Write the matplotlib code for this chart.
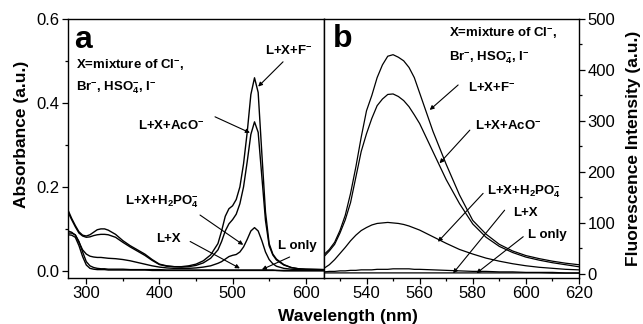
import numpy as np
import matplotlib
matplotlib.use("Agg")
import matplotlib.pyplot as plt
from matplotlib.ticker import MultipleLocator

plt.rcParams['font.family'] = ['Liberation Sans', 'DejaVu Sans']
plt.rcParams['mathtext.default'] = 'regular'

# ---- panel a : absorption ----
wl_a = [275, 280, 285, 290, 295, 300, 305, 310, 315, 320, 325, 330, 340, 350, 360, 370,
        380, 390, 400, 410, 420, 430, 440, 450, 460, 470, 480, 485, 490, 495, 500, 505,
        510, 515, 520, 525, 530, 535, 540, 545, 550, 555, 560, 570, 580, 590, 600, 625]
abs_F = [0.145, 0.125, 0.108, 0.093, 0.085, 0.083, 0.086, 0.092, 0.098, 0.100, 0.100, 0.097,
         0.087, 0.072, 0.060, 0.050, 0.040, 0.027, 0.016, 0.012, 0.010, 0.010, 0.012, 0.016,
         0.024, 0.038, 0.065, 0.095, 0.130, 0.148, 0.155, 0.170, 0.200, 0.255, 0.330, 0.420,
         0.460, 0.425, 0.280, 0.140, 0.065, 0.040, 0.028, 0.015, 0.008, 0.005, 0.004, 0.003]
abs_AcO = [0.140, 0.122, 0.105, 0.090, 0.083, 0.080, 0.081, 0.084, 0.086, 0.087, 0.087, 0.086,
           0.080, 0.068, 0.057, 0.047, 0.037, 0.025, 0.015, 0.011, 0.010, 0.009, 0.010, 0.013,
           0.019, 0.030, 0.050, 0.070, 0.095, 0.112, 0.122, 0.135, 0.160, 0.200, 0.260, 0.325,
           0.355, 0.330, 0.225, 0.120, 0.060, 0.038, 0.026, 0.014, 0.008, 0.005, 0.004, 0.003]
abs_H2PO4 = [0.095, 0.092, 0.085, 0.068, 0.050, 0.040, 0.035, 0.033, 0.032, 0.032, 0.031, 0.030,
             0.029, 0.027, 0.024, 0.020, 0.016, 0.012, 0.009, 0.007, 0.006, 0.006, 0.006, 0.007,
             0.009, 0.012, 0.018, 0.022, 0.028, 0.034, 0.037, 0.039, 0.045, 0.057, 0.075, 0.095,
             0.103, 0.095, 0.072, 0.045, 0.027, 0.017, 0.011, 0.006, 0.004, 0.003, 0.002, 0.002]
abs_LX = [0.090, 0.090, 0.086, 0.070, 0.045, 0.022, 0.012, 0.008, 0.006, 0.005, 0.005, 0.004,
          0.004, 0.004, 0.003, 0.003, 0.003, 0.003, 0.003, 0.002, 0.002, 0.002, 0.002, 0.002,
          0.002, 0.002, 0.002, 0.002, 0.002, 0.002, 0.002, 0.002, 0.002, 0.002, 0.002, 0.002,
          0.002, 0.002, 0.002, 0.002, 0.002, 0.002, 0.001, 0.001, 0.001, 0.001, 0.001, 0.001]
abs_L = [0.086, 0.085, 0.080, 0.060, 0.034, 0.014, 0.006, 0.004, 0.003, 0.003, 0.003, 0.002,
         0.002, 0.002, 0.002, 0.002, 0.002, 0.001, 0.001, 0.001, 0.001, 0.001, 0.001, 0.001,
         0.001, 0.001, 0.001, 0.001, 0.001, 0.001, 0.001, 0.001, 0.001, 0.001, 0.001, 0.001,
         0.001, 0.001, 0.001, 0.001, 0.001, 0.001, 0.001, 0.000, 0.000, 0.000, 0.000, 0.000]

# ---- panel b : fluorescence ----
wl_b = [524, 526, 528, 530, 532, 534, 536, 538, 540, 542, 544, 546, 548, 550, 552, 554, 556,
        558, 560, 565, 570, 575, 580, 585, 590, 595, 600, 605, 610, 615, 620]
fl_F = [38, 48, 62, 85, 115, 158, 210, 268, 320, 350, 385, 410, 427, 430, 425, 418, 405,
        385, 355, 280, 215, 155, 105, 78, 58, 45, 36, 30, 25, 21, 18]
fl_AcO = [34, 45, 58, 80, 106, 140, 190, 240, 275, 305, 330, 343, 352, 353, 348, 340, 328,
          312, 295, 240, 185, 138, 98, 72, 54, 42, 33, 27, 22, 18, 14]
fl_H2PO4 = [11, 18, 28, 40, 52, 65, 76, 85, 91, 96, 99, 100, 101, 100, 99, 97, 94,
            90, 86, 73, 60, 48, 39, 31, 25, 20, 16, 13, 11, 9, 8]
fl_LX = [4, 5, 5, 6, 6, 7, 7, 8, 8, 8, 9, 9, 9, 10, 10, 10, 10,
         9, 9, 8, 7, 6, 5, 5, 4, 4, 3, 3, 3, 2, 2]
fl_L = [2, 2, 2, 2, 2, 2, 2, 2, 2, 2, 2, 2, 2, 2, 2, 2, 2,
        2, 2, 2, 2, 2, 2, 2, 2, 2, 2, 2, 1.5, 1.5, 1.5]

lbl_F = r'L+X+F$^{-}$'
lbl_AcO = r'L+X+AcO$^{-}$'
lbl_H2PO4 = r'L+X+H$_2$PO$_4^{-}$'
lbl_LX = 'L+X'
lbl_L = 'L only'
x_line1 = r'X=mixture of Cl$^{-}$,'
x_line2 = r'Br$^{-}$, HSO$_4^{-}$, I$^{-}$'

fig = plt.figure(figsize=(6.43, 3.24), dpi=100)
W, H = 643, 324
axa = fig.add_axes([68 / W, 1 - 278 / H, 256 / W, 259 / H])
axb = fig.add_axes([324 / W, 1 - 278 / H, 255 / W, 259 / H])

for s in (abs_F, abs_AcO, abs_H2PO4, abs_LX, abs_L):
    axa.plot(wl_a, s, color='black', lw=1.0)
for s in (fl_F, fl_AcO, fl_H2PO4, fl_LX, fl_L):
    axb.plot(wl_b, s, color='black', lw=0.9)

axa.set_xlim(275, 625)
axa.set_ylim(-0.017, 0.6)
axa.xaxis.set_major_locator(MultipleLocator(100))
axa.xaxis.set_minor_locator(MultipleLocator(50))
axa.yaxis.set_major_locator(MultipleLocator(0.2))
axa.yaxis.set_minor_locator(MultipleLocator(0.1))
axa.set_yticks([0.0, 0.2, 0.4, 0.6])
axa.set_yticklabels(['0.0', '0.2', '0.4', '0.6'])

axb.set_xlim(524, 620)
axb.set_ylim(-8, 500)
axb.xaxis.set_major_locator(MultipleLocator(20))
axb.xaxis.set_minor_locator(MultipleLocator(10))
axb.yaxis.set_major_locator(MultipleLocator(100))
axb.yaxis.set_minor_locator(MultipleLocator(50))
axb.yaxis.tick_right()
axb.yaxis.set_label_position('right')
axb.set_xticks([540, 560, 580, 600, 620])

for ax in (axa, axb):
    for sp in ax.spines.values():
        sp.set_linewidth(1.0)
    ax.tick_params(which='major', direction='out', length=4, width=0.9, labelsize=12, pad=2)
    ax.tick_params(which='minor', direction='out', length=2.5, width=0.9)
axa.tick_params(which='both', right=False, top=False)
axb.tick_params(which='both', left=False, top=False, right=True)

fig.text(22 / W, 0.5 * (1 - 50 / H) + 0.5 * (1 - 218 / H), 'Absorbance (a.u.)', rotation=90,
         fontsize=12.5, fontweight='bold', ha='center', va='center')
axb.set_ylabel('Fluorescence Intensity (a.u.)', fontsize=12.5, fontweight='bold', labelpad=8)
fig.text(348 / W, 1 - 316 / H, 'Wavelength (nm)', fontsize=12.5, fontweight='bold',
         ha='center', va='center')

axa.text(0.023, 0.887, 'a', transform=axa.transAxes, fontsize=23, fontweight='bold')
axb.text(0.035, 0.893, 'b', transform=axb.transAxes, fontsize=23, fontweight='bold')

tk = dict(fontsize=9.5, fontweight='bold', ha='left', va='center')
axa.text(286, 0.489, x_line1, **tk)
axa.text(286, 0.437, x_line2, **tk)
axb.text(571, 472, x_line1, **tk)
axb.text(571, 425, x_line2, **tk)

arr = dict(arrowstyle='-|>', color='black', lw=0.8, mutation_scale=6, shrinkA=0, shrinkB=0)

# panel a labels and arrows
axa.text(544, 0.522, lbl_F, **tk)
axa.annotate('', xy=(535, 0.439), xytext=(569, 0.498), arrowprops=arr)
axa.text(371, 0.343, lbl_AcO, **tk)
axa.annotate('', xy=(523.7, 0.329), xytext=(476, 0.367), arrowprops=arr)
axa.text(353, 0.165, lbl_H2PO4, **tk)
axa.annotate('', xy=(514.6, 0.062), xytext=(455.5, 0.133), arrowprops=arr)
axa.text(396, 0.076, lbl_LX, **tk)
axa.annotate('', xy=(510, 0.006), xytext=(442, 0.07), arrowprops=arr)
axa.text(562, 0.06, lbl_L, **tk)
axa.annotate('', xy=(540, 0.003), xytext=(578, 0.033), arrowprops=arr)

# panel b labels and arrows
axb.text(578.3, 364, lbl_F, **tk)
axb.annotate('', xy=(563.8, 321.6), xytext=(574.5, 370.6), arrowprops=arr)
axb.text(580.8, 289, lbl_AcO, **tk)
axb.annotate('', xy=(567.5, 217), xytext=(578.9, 282), arrowprops=arr)
axb.text(585.2, 161, lbl_H2PO4, **tk)
axb.annotate('', xy=(566.9, 63), xytext=(583.9, 158), arrowprops=arr)
axb.text(595.2, 119, lbl_LX, **tk)
axb.annotate('', xy=(572.6, 1.3), xytext=(592, 125), arrowprops=arr)
axb.text(600.9, 76.5, lbl_L, **tk)
axb.annotate('', xy=(581.4, 1.3), xytext=(599, 73), arrowprops=arr)

fig.savefig('out.png', dpi=100)
